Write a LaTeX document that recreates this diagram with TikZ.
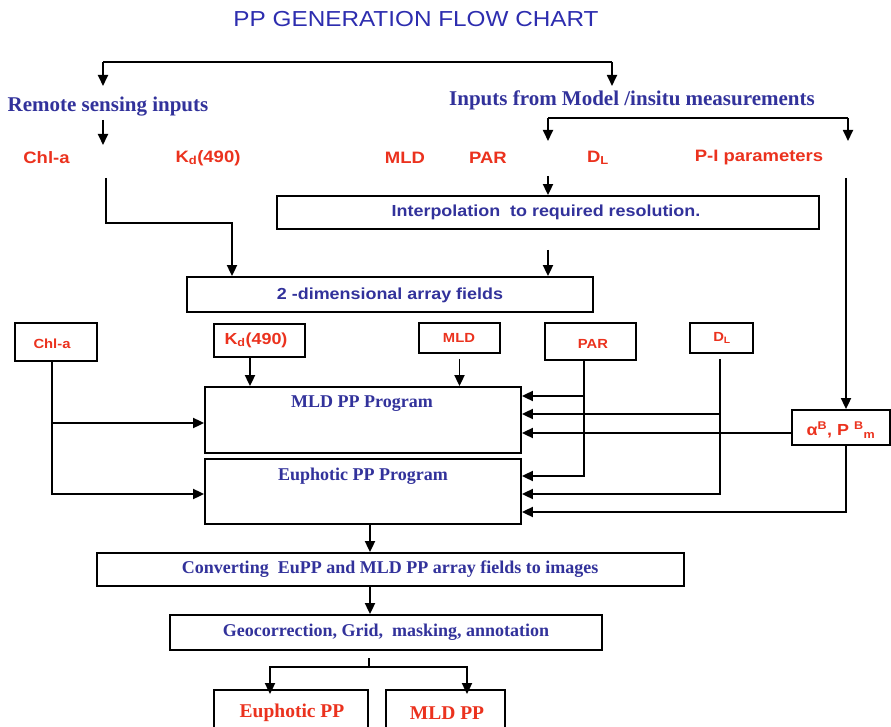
\documentclass[tikz,border=0pt]{standalone}
\usepackage{fontspec}
\setmainfont{Liberation Serif}
\newfontfamily\arialf[FakeStretch=1.12]{Liberation Sans}
\newfontfamily\seriff{Liberation Serif}
\usetikzlibrary{arrows.meta}
\definecolor{ttlblue}{RGB}{45,45,175}
\definecolor{lblue}{RGB}{50,50,155}
\definecolor{lred}{RGB}{235,50,30}
\tikzset{
  ln/.style={line width=1.8pt},
  arr/.style={ln, -{Triangle[length=11pt,width=10pt]}},
  box/.style={draw, line width=1.8pt, inner sep=0pt},
  redlbl/.style={text=lred, inner sep=0pt, font=\arialf\bfseries\fontsize{16.5}{16.5}\selectfont},
  redsmall/.style={text=lred, inner sep=0pt, font=\arialf\bfseries\fontsize{13.2}{13.2}\selectfont},
  redmid/.style={text=lred, inner sep=0pt, font=\arialf\bfseries\fontsize{16}{16}\selectfont},
  bluesans/.style={text=lblue, inner sep=0pt, font=\arialf\bfseries\fontsize{16}{16}\selectfont},
  blueserif/.style={text=lblue, inner sep=0pt, font=\seriff\bfseries\fontsize{18}{18}\selectfont},
  bluehead/.style={text=lblue, inner sep=0pt, font=\seriff\bfseries\fontsize{21}{21}\selectfont},
  redserif/.style={text=lred, inner sep=0pt, font=\seriff\bfseries\fontsize{19.5}{19.5}\selectfont},
}
\begin{document}
\begin{tikzpicture}[x=1pt,y=-1pt]
\clip (0,0) rectangle (891,727);
\fill[white] (0,0) rectangle (891,727);

% title and input headings
\node[text=ttlblue, inner sep=0pt, font=\arialf\fontsize{21.7}{21.7}\selectfont] (title) at (416,19) {PP GENERATION FLOW CHART};
\node[bluehead] (rs) at (108,107) {Remote sensing inputs};
\node[bluehead] (mi) at (632,100) {Inputs from Model /insitu measurements};

% input parameters
\node[redlbl] (chl) at (46.5,158) {Chl-a};
\node[redlbl] (kd) at (208,158) {K\textsubscript{d}(490)};
\node[redlbl] (mld) at (405,158) {MLD};
\node[redlbl] (par) at (488,158) {PAR};
\node[redlbl] (dl) at (598,158) {D\textsubscript{L}};
\node[redlbl] (pi) at (759,158) {P-I parameters};

% processing boxes
\node[box, minimum width=542pt, minimum height=33pt] (interp) at (548,212.5) {};
\node[bluesans] (interpT) at (546,212) {Interpolation\ \ to required resolution.};
\node[box, minimum width=406pt, minimum height=35pt] (arr2d) at (390,294.5) {};
\node[bluesans] (arr2dT) at (390,295) {2 -dimensional array fields};

\node[box, minimum width=82pt, minimum height=38pt] (chlbox) at (56,342) {};
\node[redsmall] (chlboxT) at (52,344) {Chl-a};
\node[box, minimum width=91pt, minimum height=33pt] (kdbox) at (259.5,340.5) {};
\node[redmid] (kdboxT) at (256,340) {K\textsubscript{d}(490)};
\node[box, minimum width=81pt, minimum height=30pt] (mldbox) at (459.5,338) {};
\node[redsmall] (mldboxT) at (459,338) {MLD};
\node[box, minimum width=91pt, minimum height=37pt] (parbox) at (590.5,341.5) {};
\node[redsmall] (parboxT) at (593,344) {PAR};
\node[box, minimum width=63pt, minimum height=30pt] (dlbox) at (721.5,338) {};
\node[redsmall] (dlboxT) at (722,338) {D\textsubscript{L}};
\node[box, minimum width=98pt, minimum height=35pt] (pibox) at (841,427.5) {};
\node[redmid] (piboxT) at (841,430) {α\textsuperscript{B}, P \textsuperscript{B}\textsubscript{m}};

\node[box, minimum width=316pt, minimum height=66pt] (mldpp) at (363,420) {};
\node[blueserif] (mldppT) at (362,404) {MLD PP Program};
\node[box, minimum width=316pt, minimum height=65pt] (eupp) at (363,491.5) {};
\node[blueserif] (euppT) at (363,476) {Euphotic PP Program};

\node[box, minimum width=587pt, minimum height=33pt] (conv) at (390.5,569.5) {};
\node[blueserif] (convT) at (390,569) {Converting\ \ EuPP and MLD PP array fields to images};
\node[box, minimum width=432pt, minimum height=35pt] (geo) at (386,632.5) {};
\node[blueserif] (geoT) at (386,632) {Geocorrection, Grid,\ \ masking, annotation};

\node[box, minimum width=154pt, minimum height=70pt] (outeu) at (291,725) {};
\node[redserif] (outeuT) at (292,713) {Euphotic PP};
\node[box, minimum width=119pt, minimum height=70pt] (outmld) at (445.5,725) {};
\node[redserif] (outmldT) at (447,713) {MLD PP};

% top split into the two input groups
\coordinate (tl) at (103,62);
\coordinate (tr) at (612,62);
\draw[ln] (tl) -- (tr);
\draw[arr] (tl) -- (103,86);
\draw[arr] (tr) -- (612,86);

% remote sensing inputs
\draw[arr] (103,120) -- (103,145);
\coordinate (rsdrop) at (106,178);
\draw[arr] (rsdrop) |- (232,223) -- (arr2d.north -| 232,0);

% model / in-situ inputs
\coordinate (mibar) at (548,118);
\draw[ln] (mibar) -- (848,118);
\draw[arr] (mibar) -- (548,141);
\draw[arr] (848,118) -- (848,141);
\draw[arr] (548,176) -- (interp.north -| 548,0);
\draw[arr] (548,250) -- (arr2d.north -| 548,0);
\coordinate (pidrop) at (846,178);
\draw[arr] (pidrop) -- (pibox.north -| 846,0);

% array fields into the two programs
\draw[arr] (kdbox.south -| 250,0) -- (mldpp.north -| 250,0);
\draw[arr] ([yshift=-5pt]mldbox.south) -- (mldbox.south |- mldpp.north);
\draw[arr] (chlbox.south -| 52,0) |- (eupp.west |- 0,494);
\draw[arr] (52,423) -- (mldpp.west |- 0,423);
\draw[arr] (parbox.south -| 584,0) |- (eupp.east |- 0,476);
\draw[arr] (584,396) -- (mldpp.east |- 0,396);
\draw[arr] ([yshift=-5pt]dlbox.south -| 720,0) |- (eupp.east |- 0,494);
\draw[arr] (720,414) -- (mldpp.east |- 0,414);
\draw[arr] (pibox.west |- 0,433) -- (mldpp.east |- 0,433);
\draw[arr] (pibox.south -| 846,15) |- (eupp.east |- 0,512);

% image generation and outputs
\draw[arr] (eupp.south -| 370,0) -- (conv.north -| 370,0);
\draw[arr] (conv.south -| 370,0) -- (geo.north -| 370,0);
\coordinate (split) at (369,667);
\draw[ln] (369,658) -- (split);
\draw[arr] (split) -| ([yshift=-5pt]outeu.north -| 270,0);
\draw[arr] (split) -| ([yshift=-5pt]outmld.north -| 467,0);
\end{tikzpicture}
\end{document}
